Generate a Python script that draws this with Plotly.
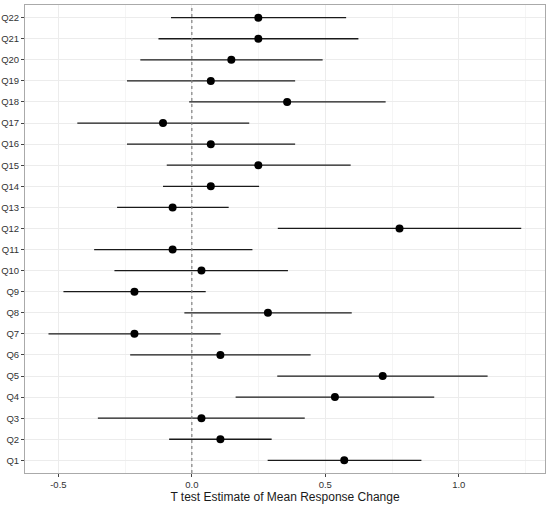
import plotly.graph_objects as go

questions = ["Q%d" % i for i in range(1, 23)]
estimate = [0.571, 0.107, 0.036, 0.536, 0.715, 0.107, -0.215, 0.285, -0.215, 0.036,
            -0.072, 0.778, -0.072, 0.071, 0.249, 0.071, -0.108, 0.357, 0.071, 0.148,
            0.249, 0.249]
lower = [0.284, -0.085, -0.352, 0.164, 0.320, -0.231, -0.537, -0.028, -0.481, -0.290,
         -0.366, 0.322, -0.280, -0.108, -0.094, -0.243, -0.429, -0.010, -0.243, -0.193,
         -0.125, -0.078]
upper = [0.860, 0.299, 0.423, 0.908, 1.108, 0.445, 0.108, 0.599, 0.052, 0.360,
         0.227, 1.234, 0.138, 0.252, 0.595, 0.387, 0.215, 0.726, 0.387, 0.490,
         0.624, 0.578]
x_ticks = [-0.5, 0.0, 0.5, 1.0]
x_tick_labels = ["-0.5", "0.0", "0.5", "1.0"]

plus = [u - e for u, e in zip(upper, estimate)]
minus = [e - l for e, l in zip(estimate, lower)]

fig = go.Figure()
fig.add_trace(go.Scatter(
    x=estimate, y=questions, mode="markers",
    marker=dict(color="black", size=8),
    error_x=dict(type="data", symmetric=False, array=plus, arrayminus=minus,
                 width=0, thickness=1.3, color="#1a1a1a"),
    showlegend=False,
))
fig.add_vline(x=0, line=dict(color="#808080", width=1.2, dash="dot"))

font = "Liberation Sans, Arial, sans-serif"
fig.update_layout(
    width=550, height=505,
    margin=dict(l=25, r=5, t=5, b=32),
    paper_bgcolor="white", plot_bgcolor="white",
    font=dict(family=font, color="#1a1a1a"),
    xaxis=dict(
        automargin=False,
        range=[-0.625, 1.323], tickvals=x_ticks, ticktext=x_tick_labels,
        tickfont=dict(size=9.5, color="#333333"),
        ticks="outside", ticklen=3, tickcolor="#444444",
        showgrid=True, gridcolor="#ececec", gridwidth=1,
        minor=dict(dtick=0.25, tick0=-0.25, showgrid=True, gridcolor="#f5f5f5", gridwidth=1),
        zeroline=False,
        showline=True, linecolor="#aaaaaa", linewidth=1, mirror=True,
        title=dict(text="T test Estimate of Mean Response Change",
                   font=dict(size=12, color="#1a1a1a"), standoff=2),
    ),
    yaxis=dict(
        automargin=False,
        type="category", categoryorder="array", categoryarray=questions,
        range=[-0.6, 21.6],
        tickfont=dict(size=9.5, color="#333333"),
        ticks="outside", ticklen=3, tickcolor="#444444",
        showgrid=True, gridcolor="#ececec", gridwidth=1,
        zeroline=False,
        showline=True, linecolor="#aaaaaa", linewidth=1, mirror=True,
    ),
)

fig.write_html("out.html", config={"displayModeBar": False},
               post_script="document.body.style.margin='0';document.body.style.overflow='hidden';")
